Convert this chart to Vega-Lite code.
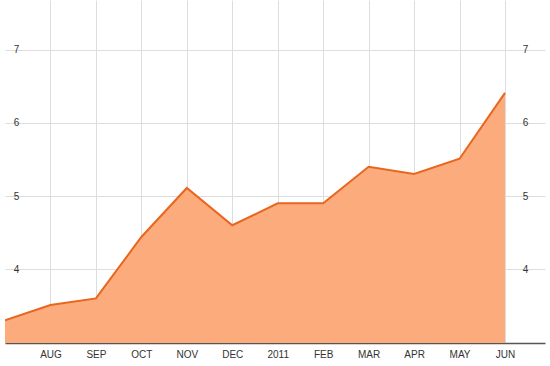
{
  "$schema": "https://vega.github.io/schema/vega-lite/v6.json",
  "autosize": {"type": "none"},
  "padding": {"left": 5, "right": 5, "top": 0, "bottom": 23},
  "width": 540,
  "height": 343,
  "background": "white",
  "config": {
    "view": {"stroke": null},
    "axis": {"labelFont": "Liberation Sans", "labelFontSize": 10, "labelColor": "#333333", "gridColor": "#dddddd", "gridWidth": 1, "ticks": false, "title": null}
  },
  "data": {
    "values": [
      {"month": "JUL", "value": 3.30},
      {"month": "AUG", "value": 3.51},
      {"month": "SEP", "value": 3.60},
      {"month": "OCT", "value": 4.44},
      {"month": "NOV", "value": 5.11},
      {"month": "DEC", "value": 4.60},
      {"month": "2011", "value": 4.90},
      {"month": "FEB", "value": 4.90},
      {"month": "MAR", "value": 5.40},
      {"month": "APR", "value": 5.30},
      {"month": "MAY", "value": 5.51},
      {"month": "JUN", "value": 6.41}
    ]
  },
  "encoding": {
    "x": {
      "field": "month", "type": "ordinal", "sort": null,
      "scale": {"type": "point", "padding": 0.44, "align": 0},
      "axis": {"labelAngle": 0, "labelPadding": 6, "domainColor": "#555555", "domainWidth": 1.5, "grid": true,
        "gridOpacity": {"condition": {"test": "datum.value == 'JUL'", "value": 0}, "value": 1},
        "labelExpr": "datum.value == 'JUL' ? '' : datum.value"}
    }
  },
  "layer": [
    {
      "mark": {"type": "area", "color": "#FCAC7C", "opacity": 1, "clip": true},
      "encoding": {
        "y": {"field": "value", "type": "quantitative", "scale": {"domain": [2.99, 7.68], "zero": false, "nice": false},
          "axis": {"orient": "left", "values": [4, 5, 6, 7], "labelAlign": "center", "labelPadding": -11, "domain": false, "grid": true}}
      }
    },
    {
      "mark": {"type": "line", "color": "#E8661E", "strokeWidth": 2, "clip": true},
      "encoding": {
        "y": {"field": "value", "type": "quantitative", "scale": {"domain": [2.99, 7.68], "zero": false, "nice": false},
          "axis": {"orient": "right", "values": [4, 5, 6, 7], "labelAlign": "center", "labelPadding": -20, "domain": false, "grid": false}}
      }
    }
  ],
  "resolve": {"axis": {"y": "independent"}}
}
